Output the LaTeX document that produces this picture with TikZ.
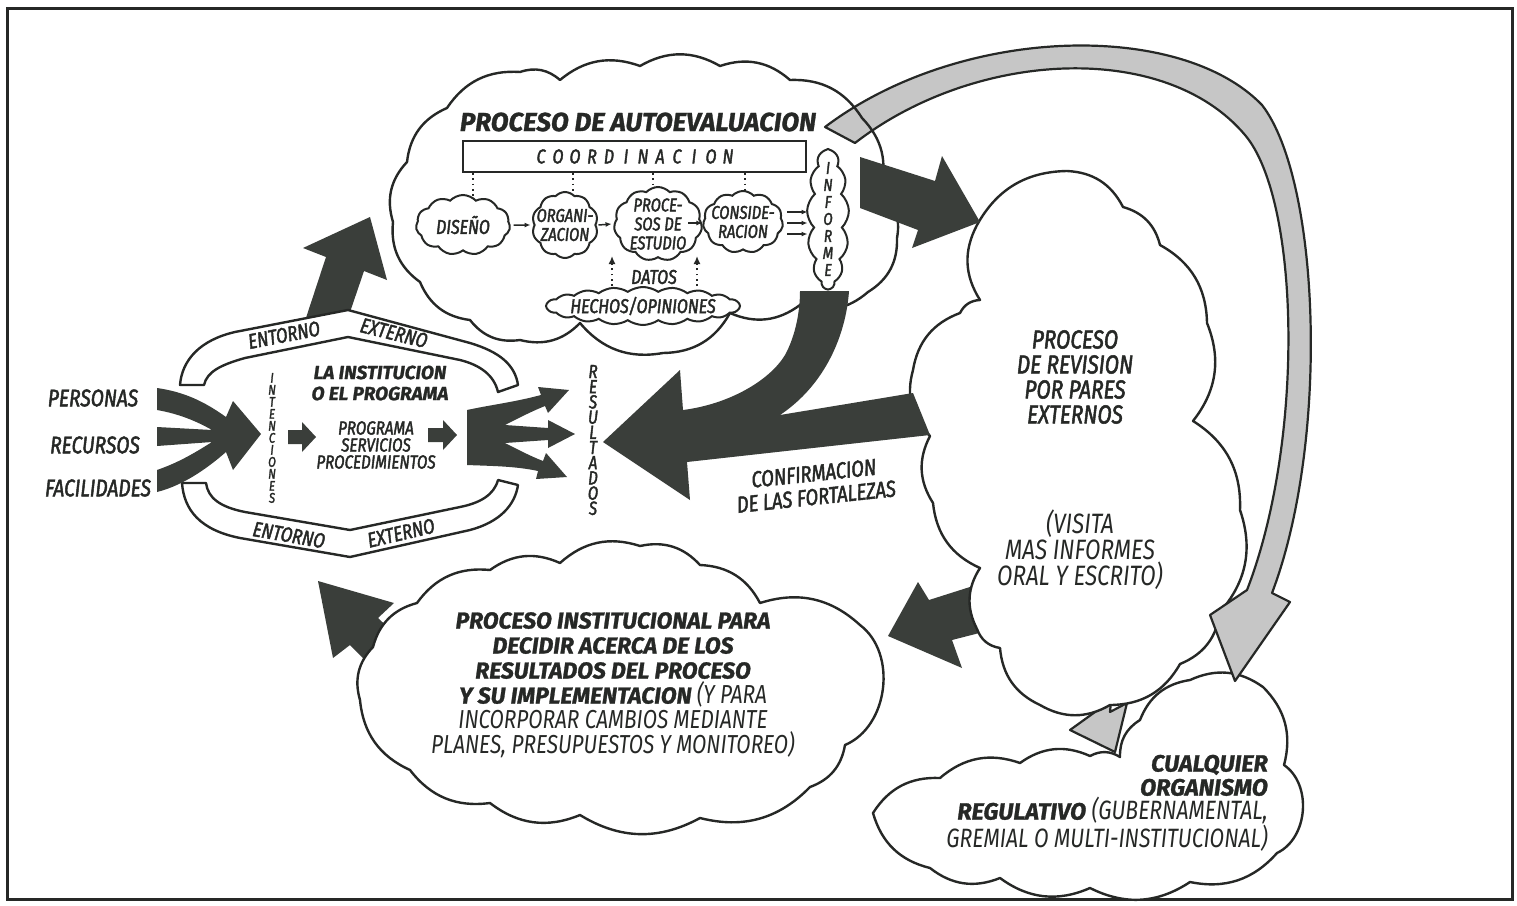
\documentclass[tikz,border=0pt]{standalone}
\usepackage{fontspec}
\usetikzlibrary{shapes.symbols,arrows.meta}
\newfontfamily\handfam{Fira Sans}[FakeStretch=0.8]
\newfontfamily\handmedfam{Fira Sans}[FakeStretch=0.8, FakeBold=2]
\newfontfamily\handboldfam{Fira Sans}[FakeBold=1.2]
\newcommand\fhb{\handboldfam\bfseries\itshape}
\newcommand\fhm{\handmedfam\mdseries\itshape}
\newcommand\fhl{\handfam\mdseries\itshape}
\newcommand\fsz[2]{\fontsize{#1}{#2}\selectfont}
\newcommand\spc[1]{\makebox[17pt]{#1}}
\definecolor{ink}{RGB}{38,40,38}
\definecolor{dark}{RGB}{58,62,58}
\definecolor{stip}{RGB}{198,198,198}

% outlines of the large clouds (clockwise, each segment bulges outward)
\newcommand\autoevpath{(393,-222) to (407,-162) to (447,-108) to (520,-72) to (560,-80) to (640,-66) to (720,-66) to (790,-80) to (862,-118) to (880,-190) to (897,-238) to (868,-292) to (800,-305) to (730,-313) to (663,-353) to (580,-323) to (520,-340) to (470,-320) to (420,-282) to (393,-222) -- cycle}
\newcommand\revpath{(977,-225) to (1067,-171) to (1123,-207) to (1160,-245) to (1207,-323) to (1193,-421) to (1240,-510) to (1220,-612) to (1180,-664) to (1110,-705) to (1040,-705) to (1000,-648) to (977,-629) to (980,-568) to (933,-503) to (930,-436) to (913,-370) to (960,-313) to (980,-300) to (977,-225) -- cycle}
\newcommand\regpath{(873,-813) to (940,-778) to (1020,-763) to (1090,-756) to (1120,-757) to (1140,-720) to (1190,-680) to (1263,-687) to (1284,-765) to[bend left=60] (1277,-853) to (1190,-882) to (1090,-888) to (1000,-878) to (930,-868) to (873,-813) -- cycle}
\newcommand\instpath{(360,-700) to (373,-647) to (417,-603) to (490,-570) to (560,-563) to (640,-546) to (700,-565) to (760,-603) to (860,-625) to[bend left=60] (845,-745) to (810,-787) to (700,-818) to (580,-815) to (490,-803) to (410,-770) to (360,-700) -- cycle}

\tikzset{
  inkline/.style={draw=ink, line width=2.4pt, line join=round},
  darkshape/.style={fill=dark},
  grayshape/.style={fill=stip, draw=ink, line width=2.2pt, line join=round},
  band/.style={fill=white, draw=ink, line width=2.4pt, line join=round},
  scloud/.style={cloud, draw=ink, line width=2pt, fill=white, cloud puffs=11, cloud puff arc=95, cloud ignores aspect, inner sep=0pt},
  lbl/.style={inner sep=0pt, align=center, text=ink},
  thinarrow/.style={draw=ink, line width=1.5pt, -{Latex[length=6pt,width=5pt]}},
  dotline/.style={draw=ink, line width=1.8pt, dash pattern=on 1.8pt off 3.5pt},
  datarrow/.style={dotline, -{Latex[length=8pt,width=7pt]}},
}

\begin{document}
\begin{tikzpicture}[x=1pt,y=1pt]
\useasboundingbox (0,0) rectangle (1517,-905);
\draw[ink, line width=3pt] (7,-8) rectangle (1512,-899);

% ---------- the institution ----------
\fill[darkshape] (370,-217) -- (387,-280) -- (364,-271) -- (348,-318) -- (302,-330) -- (326,-257) -- (303,-248) -- cycle;
\path[band] (180,-385) .. controls (182,-360) and (200,-340) .. (235,-332) -- (348,-310) -- (470,-343) .. controls (500,-352) and (515,-365) .. (518,-385) -- (498,-392) .. controls (494,-375) and (480,-365) .. (460,-360) -- (348,-337) -- (245,-358) .. controls (220,-365) and (207,-372) .. (204,-385) -- cycle;
\path[band] (182,-483) .. controls (184,-510) and (200,-530) .. (240,-538) -- (350,-557) -- (470,-530) .. controls (500,-522) and (515,-505) .. (518,-485) -- (498,-480) .. controls (494,-495) and (480,-503) .. (460,-507) -- (350,-530) -- (245,-512) .. controls (220,-507) and (208,-498) .. (206,-483) -- cycle;
\node[lbl, font=\fhm\fsz{21}{21}, rotate=11] (ent1) at (284,-335) {ENTORNO};
\node[lbl, font=\fhm\fsz{21}{21}, rotate=-14] (ext1) at (394,-333) {EXTERNO};
\node[lbl, font=\fhm\fsz{21}{21}, rotate=-10] (ent2) at (289,-535) {ENTORNO};
\node[lbl, font=\fhm\fsz{21}{21}, rotate=13] (ext2) at (401,-533) {EXTERNO};

% converging inputs
\fill[darkshape] (261,-434) -- (233,-401) -- (226,-417) .. controls (205,-402) and (185,-392) .. (157,-388) -- (157,-410) .. controls (180,-414) and (198,-422) .. (212,-430) -- (157,-427) -- (157,-446) -- (212,-442) .. controls (196,-452) and (180,-462) .. (157,-470) -- (157,-492) .. controls (185,-485) and (210,-466) .. (226,-452) -- (233,-470) -- cycle;
% diverging outputs
\fill[darkshape] (467,-410) .. controls (490,-405) and (515,-402) .. (541,-395) -- (538,-387) -- (569,-390) -- (548,-413) -- (545,-406) .. controls (530,-412) and (515,-420) .. (505,-425) -- (548,-428) -- (548,-420) -- (575,-434) -- (548,-448) -- (548,-440) -- (505,-443) .. controls (515,-448) and (530,-456) .. (543,-461) -- (546,-453) -- (567,-477) -- (536,-479) -- (538,-471) .. controls (515,-466) and (490,-466) .. (467,-465) -- cycle;
% inner steps
\fill[darkshape] (288,-430) -- (302,-430) -- (302,-422) -- (316,-437) -- (302,-452) -- (302,-444) -- (288,-444) -- cycle;
\fill[darkshape] (428,-428) -- (443,-428) -- (443,-420) -- (457,-435) -- (443,-450) -- (443,-442) -- (428,-442) -- cycle;

\node[lbl, font=\fhm\fsz{24}{24}] (pers) at (93,-398) {PERSONAS};
\node[lbl, font=\fhm\fsz{24}{24}] (recu) at (95,-445) {RECURSOS};
\node[lbl, font=\fhm\fsz{24}{24}] (faci) at (98,-488) {FACILIDADES};
\node[lbl, font=\fhb\fsz{19}{21}] (inst) at (380,-383) {LA INSTITUCION\\O EL PROGRAMA};
\node[lbl, font=\fhm\fsz{19}{17}] (prog) at (376,-445) {PROGRAMA\\SERVICIOS\\PROCEDIMIENTOS};
\node[lbl, font=\fhm\fsz{14}{12}] (inten) at (272,-438) {I\\N\\T\\E\\N\\C\\I\\O\\N\\E\\S};
\node[lbl, font=\fhm\fsz{19}{15.2}] (resu) at (593,-440) {R\\E\\S\\U\\L\\T\\A\\D\\O\\S};

% ---------- institutional decision ----------
\fill[darkshape] (318,-581) -- (394,-603) -- (378,-618) -- (412,-650) -- (385,-680) -- (350,-645) -- (333,-658) -- cycle;
\filldraw[inkline, fill=white, bend left=30] \instpath;
\node[lbl, font=\fhb\fsz{23}{25}] (instt) at (613,-685) {PROCESO INSTITUCIONAL PARA\\DECIDIR ACERCA DE LOS\\RESULTADOS DEL PROCESO\\Y SU IMPLEMENTACION {\fhl\fsz{26}{25}(Y PARA}\\{\fhl\fsz{26}{25}INCORPORAR CAMBIOS MEDIANTE}\\{\fhl\fsz{26}{25}PLANES, PRESUPUESTOS Y MONITOREO)}};

% ---------- peer review and regulator ----------
\fill[darkshape] (995,-579) -- (929,-600) -- (918,-582) -- (888,-636) -- (962,-668) -- (952,-640) -- (995,-629) -- cycle;
\filldraw[grayshape] (1092,-690) -- (1095,-712) -- (1070,-730) -- (1115,-752) -- (1127,-703) -- (1110,-712) -- (1112,-690) -- cycle;
\filldraw[inkline, fill=white, bend left=30] \regpath;
\filldraw[inkline, fill=white, bend left=30] \revpath;
\node[lbl, font=\fhm\fsz{26}{25}] (revt) at (1075,-377) {PROCESO\\DE REVISION\\POR PARES\\EXTERNOS};
\node[lbl, font=\fhl\fsz{28}{26}] (visi) at (1080,-550) {(VISITA\\MAS INFORMES\\ORAL Y ESCRITO)};
\node[lbl, align=right, anchor=east, font=\fhl\fsz{26.5}{24}] (regt) at (1268,-803) {{\fhb\fsz{23.5}{24}CUALQUIER}\\{\fhb\fsz{23.5}{24}ORGANISMO}\\{\fhb\fsz{23.5}{24}REGULATIVO} (GUBERNAMENTAL,\\GREMIAL O MULTI-INSTITUCIONAL)};
\node[lbl, font=\fhm\fsz{23}{23.5}, rotate=6] (conf) at (815,-485) {CONFIRMACION\\DE LAS FORTALEZAS};

% ---------- self-evaluation ----------
\fill[white, bend left=30] \autoevpath;
\filldraw[grayshape] (825,-127) .. controls (960,-25) and (1180,-20) .. (1262,-105) .. controls (1320,-180) and (1330,-440) .. (1272,-593) -- (1290,-602) -- (1235,-681) -- (1210,-615) -- (1247,-590) .. controls (1305,-440) and (1300,-200) .. (1245,-135) .. controls (1165,-40) and (975,-50) .. (855,-143) -- cycle;
\draw[inkline, bend left=30] \autoevpath;
\fill[darkshape] (860,-157) -- (935,-181) -- (942,-156) -- (980,-222) -- (912,-248) -- (918,-230) -- (860,-208) -- cycle;

\node[lbl, font=\fhb\fsz{26}{26}] (title) at (638,-122) {PROCESO DE AUTOEVALUACION};
\node[draw=ink, line width=2pt, minimum width=343pt, minimum height=31pt, inner sep=0pt, font=\fhm\fsz{20}{20}, text=ink] (coord) at (634.5,-156.5) {\spc{C}\spc{O}\spc{O}\spc{R}\spc{D}\spc{I}\spc{N}\spc{A}\spc{C}\spc{I}\spc{O}\spc{N}};

\node[scloud, minimum width=94pt, minimum height=60pt] (dis) at (463,-225) {};
\node[lbl, font=\fhm\fsz{20}{19}] (disl) at (dis) {DISEÑO};
\node[scloud, cloud puffs=10, minimum width=66pt, minimum height=66pt] (org) at (565,-225) {};
\node[lbl, font=\fhm\fsz{18.5}{19}] (orgl) at (org) {ORGANI-\\ZACION};
\node[scloud, minimum width=88pt, minimum height=74pt] (proc) at (658,-224) {};
\node[lbl, font=\fhm\fsz{18.5}{19}] (procl) at (proc) {PROCE-\\SOS DE\\ESTUDIO};
\node[scloud, minimum width=80pt, minimum height=62pt] (cons) at (743,-222) {};
\node[lbl, font=\fhm\fsz{18.5}{19}] (consl) at (cons) {CONSIDE-\\RACION};
\node[scloud, cloud puffs=13, cloud puff arc=95, minimum width=42pt, minimum height=140pt] (inf) at (828,-219) {};
\node[lbl, font=\fhm\fsz{17}{17}] (infl) at (inf) {I\\N\\F\\O\\R\\M\\E};
\node[scloud, cloud puffs=20, cloud puff arc=70, minimum width=194pt, minimum height=38pt] (hech) at (643,-306) {};
\node[lbl, font=\fhm\fsz{20}{20}] (hechl) at (hech) {HECHOS/OPINIONES};
\node[lbl, font=\fhm\fsz{20}{20}] (datos) at (654,-277) {DATOS};

\coordinate (k1) at (473,-196);
\coordinate (k2) at (573,-193);
\coordinate (k3) at (653,-188);
\coordinate (k4) at (745,-192);
\foreach \k in {k1,k2,k3,k4} \draw[dotline] (coord.south -| \k) -- (\k);

\draw[thinarrow] ([xshift=3pt]dis.east) -- ([xshift=-3pt]org.west);
\draw[thinarrow] ([xshift=2pt]org.east) -- ([xshift=-2pt]proc.west);
\coordinate (pc) at (688,-223);
\draw[thinarrow] (pc) -- (pc -| cons.west);
\coordinate (q1) at (787,-212);
\coordinate (q2) at (787,-223);
\coordinate (q3) at (787,-234);
\foreach \q in {q1,q2,q3} \draw[thinarrow] (\q) -- (\q -| inf.west);
\coordinate (d1) at (612,-256);
\coordinate (d2) at (697,-256);
\draw[datarrow] (hech.north -| d1) -- (d1);
\draw[datarrow] (hech.north -| d2) -- (d2);

% report feeding back to the results, joined by the peer confirmation
\fill[darkshape] (603,-442) -- (680,-370) -- (683,-410) .. controls (730,-404) and (770,-380) .. (785,-355) .. controls (796,-335) and (800,-310) .. (800,-291) -- (849,-291) .. controls (846,-335) and (825,-385) .. (780,-415) -- (913,-393) -- (930,-435) -- (687,-462) -- (690,-500) -- cycle;
\end{tikzpicture}
\end{document}
